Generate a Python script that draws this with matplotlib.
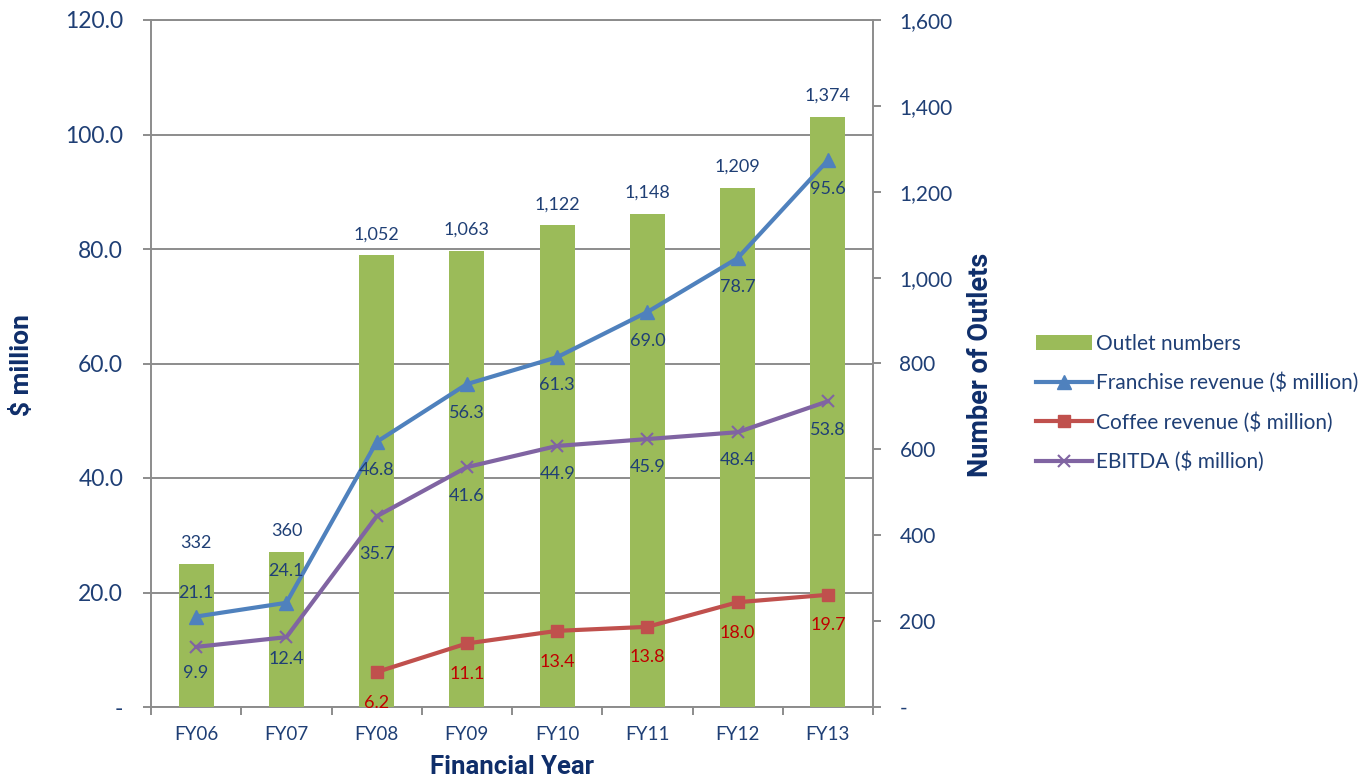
import matplotlib
matplotlib.use('Agg')
import matplotlib.pyplot as plt
from matplotlib import font_manager
from matplotlib.ticker import FixedLocator, FuncFormatter
from matplotlib.patches import Patch
from matplotlib.lines import Line2D

# data
years = ['FY06', 'FY07', 'FY08', 'FY09', 'FY10', 'FY11', 'FY12', 'FY13']
outlets = [332, 360, 1052, 1063, 1122, 1148, 1209, 1374]
franchise = [15.8, 18.2, 46.3, 56.4, 61.1, 69.0, 78.4, 95.5]
franchise_lbl = ['21.1', '24.1', '46.8', '56.3', '61.3', '69.0', '78.7', '95.6']
coffee = [None, None, 6.1, 11.1, 13.3, 14.0, 18.3, 19.6]
coffee_lbl = ['', '', '6.2', '11.1', '13.4', '13.8', '18.0', '19.7']
ebitda = [10.5, 12.2, 33.3, 41.9, 45.6, 46.8, 48.0, 53.4]
ebitda_lbl = ['9.9', '12.4', '35.7', '41.6', '44.9', '45.9', '48.4', '53.8']

# label offsets in pixels (negative = above the point)
franchise_off = [-24, -32, 28, 29, 28, 29, 29, 29]
ebitda_off = [26, 22, 38, 29, 28, 28, 28, 29]
coffee_off = [0, 0, 31, 31, 31, 30, 31, 30]

GREEN = '#9BBB59'
BLUE = '#4F81BD'
RED = '#C0504D'
PURPLE = '#8064A2'
NAVY = '#1F3F75'
TITLE = '#0F2E6A'
GRID = '#8C8C8C'


def pick(names):
    have = {f.name for f in font_manager.fontManager.ttflist}
    for n in names:
        if n in have:
            return n
    return 'DejaVu Sans'


FONT = pick(['Lato', 'Open Sans', 'DejaVu Sans'])
BOLD = pick(['Liberation Sans Narrow', 'Roboto', 'DejaVu Sans'])
plt.rcParams['font.family'] = FONT

W, H = 1372, 782
fig = plt.figure(figsize=(W / 100, H / 100), dpi=100)
pos = [151 / W, 1 - 707 / H, (873 - 151) / W, (707 - 20) / H]

ax = fig.add_axes(pos)
x = list(range(len(years)))
ax.set_xlim(-0.5, len(years) - 0.5)
ax.set_ylim(0, 120)
ax.set_yticks(range(0, 121, 20))
ax.yaxis.set_major_formatter(FuncFormatter(lambda v, p: '-' if v == 0 else f'{v:.1f}'))
ax.grid(axis='y', color=GRID, lw=1.4)
ax.set_axisbelow(True)
ax.set_xticks(x)
ax.set_xticklabels(years)
ax.xaxis.set_minor_locator(FixedLocator([i - 0.5 for i in range(len(years) + 1)]))
ax.tick_params(axis='x', which='major', length=0, pad=14, labelsize=13.5, labelcolor=NAVY)
ax.tick_params(axis='x', which='minor', length=6, width=1.4, color=GRID, direction='out')
ax.tick_params(axis='y', length=6, width=1.4, color=GRID, pad=14, labelsize=16.5, labelcolor=NAVY)
for s in ax.spines.values():
    s.set_color(GRID)
    s.set_linewidth(1.4)
ax.spines['right'].set_visible(False)

# bars on the right axis
ax2 = ax.twinx()
ax2.bar(x, outlets, width=0.39, color=GREEN, zorder=2)
ax2.set_ylim(0, 1600)
ax2.set_yticks(range(0, 1601, 200))
ax2.yaxis.set_major_formatter(FuncFormatter(lambda v, p: '-' if v == 0 else f'{int(v):,}'))
ax2.tick_params(axis='y', length=6, width=1.4, color=GRID, pad=13, labelsize=15, labelcolor=NAVY)
for s in ax2.spines.values():
    s.set_visible(False)
ax2.spines['right'].set_visible(True)
ax2.spines['right'].set_color(GRID)
ax2.spines['right'].set_linewidth(1.4)
for i, v in enumerate(outlets):
    ax2.annotate(f'{v:,}', (i, v), xytext=(0, 21), textcoords='offset pixels',
                 ha='center', va='center', fontsize=13, color=NAVY)

# lines on an overlay sharing the $ million scale
ax3 = fig.add_axes(pos, sharex=ax, sharey=ax)
ax3.axis('off')
ax3.patch.set_visible(False)

ax3.plot(x, franchise, color=BLUE, lw=3, marker='^', ms=10)
cx = [i for i, v in enumerate(coffee) if v is not None]
cy = [v for v in coffee if v is not None]
ax3.plot(cx, cy, color=RED, lw=3, marker='s', ms=9)
ax3.plot(x, ebitda, color=PURPLE, lw=3, marker='x', ms=9, mew=1.5)

for i in x:
    ax3.annotate(franchise_lbl[i], (i, franchise[i]), xytext=(0, -franchise_off[i]),
                 textcoords='offset pixels', ha='center', va='center', fontsize=13, color=NAVY)
    ax3.annotate(ebitda_lbl[i], (i, ebitda[i]), xytext=(0, -ebitda_off[i]),
                 textcoords='offset pixels', ha='center', va='center', fontsize=13, color=NAVY)
    if coffee[i] is not None:
        ax3.annotate(coffee_lbl[i], (i, coffee[i]), xytext=(0, -coffee_off[i]),
                     textcoords='offset pixels', ha='center', va='center', fontsize=13,
                     color='#C00000')

# axis titles
fig.text(22 / W, 1 - 365 / H, '$ million', rotation=90, ha='center', va='center',
         fontsize=19, fontweight='bold', color=TITLE, family=BOLD)
fig.text(980 / W, 1 - 365 / H, 'Number of Outlets', rotation=90, ha='center', va='center',
         fontsize=19.5, fontweight='bold', color=TITLE, family=BOLD)
fig.text(512 / W, 1 - 767 / H, 'Financial Year', ha='center', va='center',
         fontsize=18.5, fontweight='bold', color=TITLE, family=BOLD)

handles = [
    Patch(facecolor=GREEN, label='Outlet numbers'),
    Line2D([], [], color=BLUE, lw=3, marker='^', ms=10, label='Franchise revenue ($ million)'),
    Line2D([], [], color=RED, lw=3, marker='s', ms=9, label='Coffee revenue ($ million)'),
    Line2D([], [], color=PURPLE, lw=3, marker='x', ms=9, mew=1.5, label='EBITDA ($ million)'),
]
leg = fig.legend(handles=handles, loc='center left', bbox_to_anchor=(1036 / W, 1 - 403 / H),
                 frameon=False, fontsize=15, handlelength=2.7, handletextpad=0.2,
                 labelspacing=0.9, borderpad=0, borderaxespad=0)
for t in leg.get_texts():
    t.set_color(NAVY)

fig.savefig('out.png', dpi=100)
